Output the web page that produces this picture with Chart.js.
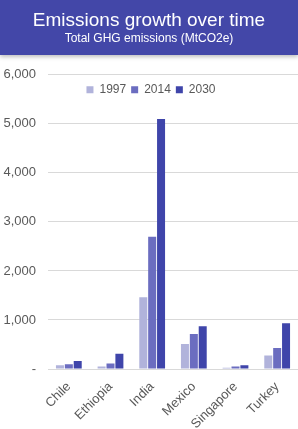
<!DOCTYPE html>
<html>
<head>
<meta charset="utf-8">
<script src="https://cdn.jsdelivr.net/npm/chart.js@4/dist/chart.umd.min.js"></script>
<style>
  html, body { margin: 0; padding: 0; background: #fff; }
  body { width: 298px; height: 429px; overflow: hidden; font-family: "Liberation Sans", Arial, sans-serif; }
  #header {
    position: relative; z-index: 2;
    height: 55px; background: #4347a8; color: #fff; text-align: center;
    box-shadow: 0 2px 4px rgba(0, 0, 0, 0.25);
  }
  #header .t { font-size: 19px; padding-top: 9px; line-height: 22px; }
  #header .s { font-size: 12px; line-height: 14px; }
  #wrap { position: relative; width: 298px; height: 374px; }
</style>
</head>
<body>
<div id="header">
  <div class="t">Emissions growth over time</div>
  <div class="s">Total GHG emissions (MtCO2e)</div>
</div>
<div id="wrap"><canvas id="myChart"></canvas></div>
<script>
  const countries = ["Chile", "Ethiopia", "India", "Mexico", "Singapore", "Turkey"];
  const years = ["1997", "2014", "2030"];
  const values1997 = [75, 50, 1465, 510, 25, 275];
  const values2014 = [95, 110, 2695, 712, 50, 430];
  const values2030 = [165, 310, 5100, 873, 75, 933];
  const barColors = ["#b1b3db", "#6b6dc0", "#3f45aa"];
  const yTicks = [0, 1000, 2000, 3000, 4000, 5000, 6000];

  // move the top legend down so it overlaps the plot area, like the original
  const legendInside = {
    id: "legendInside",
    afterLayout(chart) {
      const lg = chart.legend;
      const h = lg.bottom - lg.top;
      lg.top = chart.chartArea.top + 4;
      lg.bottom = lg.top + h;
      lg.left += 2;
      lg.right += 2;
    },
  };

  new Chart(document.getElementById("myChart"), {
    type: "bar",
    data: {
      labels: countries,
      datasets: [values1997, values2014, values2030].map((vals, i) => ({
        label: years[i],
        data: vals,
        backgroundColor: barColors[i],
        categoryPercentage: 0.64,
        barPercentage: 0.9,
      })),
    },
    options: {
      responsive: true,
      maintainAspectRatio: false,
      animation: false,
      layout: { padding: { top: -10, right: 0, left: 0, bottom: 0 } },
      scales: {
        y: {
          min: 0,
          max: 6000,
          afterBuildTicks: (axis) => { axis.ticks = yTicks.map((v) => ({ value: v })); },
          afterFit: (axis) => { axis.width = 48; },
          border: { display: false },
          grid: { color: "#d9d9d9", drawTicks: false },
          ticks: {
            padding: 12,
            color: "#595959",
            font: { size: 13, family: "Liberation Sans" },
            callback: (v) => (v === 0 ? "-" : v.toLocaleString("en-US")),
          },
        },
        x: {
          grid: { display: false },
          border: { color: "#d9d9d9" },
          afterFit: (axis) => { axis.height = 60; },
          ticks: {
            minRotation: 45,
            maxRotation: 45,
            padding: 2,
            color: "#595959",
            font: { size: 13, family: "Liberation Sans" },
          },
        },
      },
      plugins: {
        legend: {
          position: "top",
          labels: {
            boxWidth: 7,
            boxHeight: 7,
            padding: 5,
            color: "#595959",
            font: { size: 12, family: "Liberation Sans" },
          },
        },
        tooltip: { enabled: false },
      },
    },
    plugins: [legendInside],
  });
</script>
</body>
</html>
